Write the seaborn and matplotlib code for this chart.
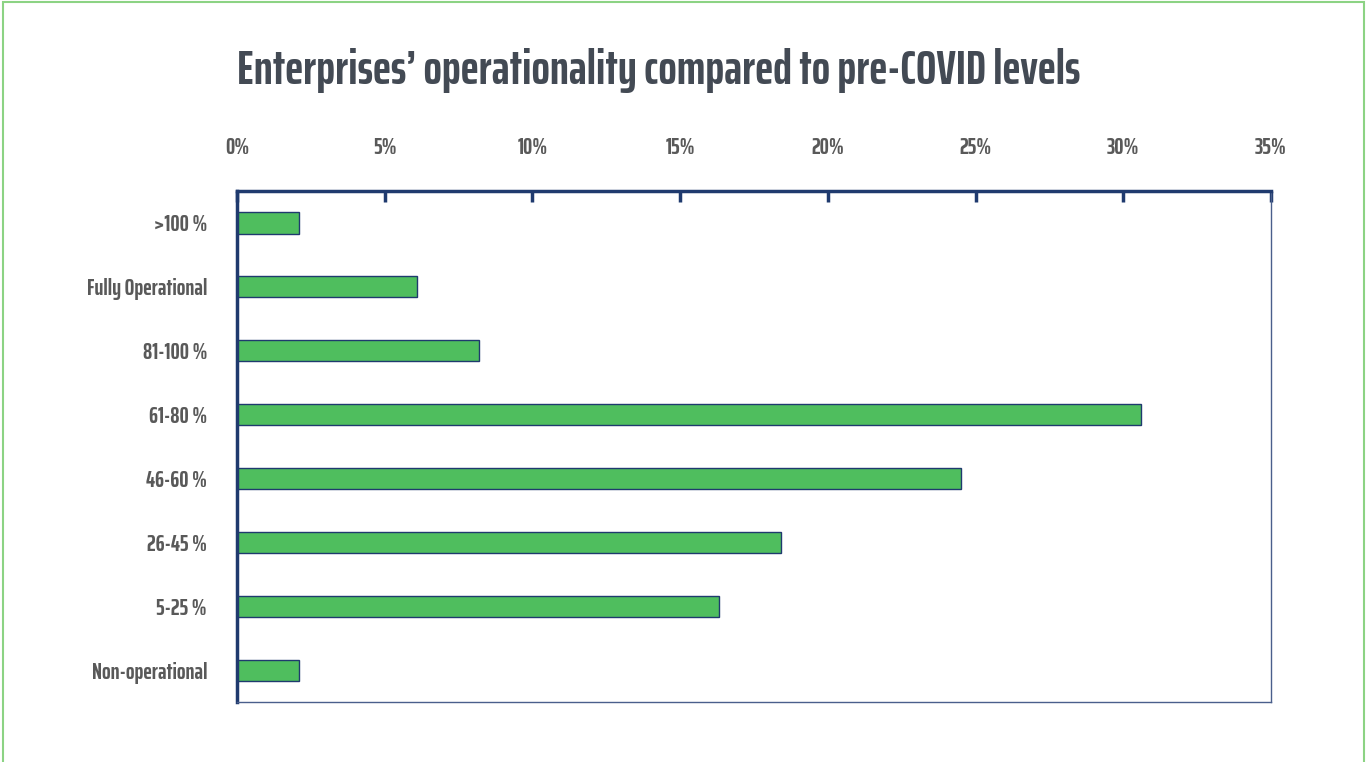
import matplotlib
matplotlib.use("Agg")
import matplotlib.pyplot as plt
from matplotlib import font_manager
from matplotlib.patches import Rectangle
import seaborn as sns
import pandas as pd

categories = [">100 %", "Fully Operational", "81-100 %", "61-80 %",
              "46-60 %", "26-45 %", "5-25 %", "Non-operational"]
shares = [2.1, 6.1, 8.2, 30.6, 24.5, 18.4, 16.3, 2.1]
x_ticks = [0, 5, 10, 15, 20, 25, 30, 35]
x_tick_labels = [f"{t}%" for t in x_ticks]
title_text = "Enterprises\u2019 operationality compared to pre-COVID levels"

sns.set_theme(style="white")

TITLE_WIDTH_PX = 842
TITLE_SIZE = 38
WEIGHT = "bold"


def installed(name):
    try:
        font_manager.findfont(name, fallback_to_default=False)
        return True
    except Exception:
        return False


candidates = [f for f in ["Saira ExtraCondensed", "Saira Condensed", "Barlow Condensed",
                          "Oswald"] if installed(f)] or ["DejaVu Sans"]

fig = plt.figure(figsize=(13.67, 7.62), dpi=100)
renderer = fig.canvas.get_renderer()


def text_width(family, size):
    t = fig.text(0, 0, title_text, fontsize=size, fontweight=WEIGHT, family=[family, "DejaVu Sans"])
    w = t.get_window_extent(renderer).width
    t.remove()
    return w


# Narrow face whose natural width is closest to the title box
widths = {f: text_width(f, TITLE_SIZE) for f in candidates}
family = min(widths, key=lambda f: abs(widths[f] - TITLE_WIDTH_PX))
title_size = TITLE_SIZE * TITLE_WIDTH_PX / widths[family]
label_size = 18 * title_size / TITLE_SIZE

plt.rcParams["font.family"] = [family, "DejaVu Sans"]

df = pd.DataFrame({"category": categories, "share": shares})

ax = fig.add_axes([0.1734, 0.0787, 0.7564, 0.6706])

sns.barplot(data=df, x="share", y="category", order=categories, orient="h",
            color="#4FBE5E", saturation=1, width=0.33,
            edgecolor="#1F3A6E", linewidth=1.0, ax=ax)

ax.set_xlim(0, 35)
ax.set_ylim(len(categories) - 0.5, -0.5)
ax.set_xticks(x_ticks)
ax.set_xticklabels(x_tick_labels)
ax.xaxis.tick_top()
ax.xaxis.set_label_position("top")
ax.set_xlabel("")
ax.set_ylabel("")

ax.tick_params(axis="x", which="both", direction="in", length=8, width=2.5,
               color="#1F3A6E", pad=23, labelsize=label_size, labelcolor="#595959")
ax.tick_params(axis="y", which="both", length=0, pad=21.6, labelsize=label_size,
               labelcolor="#595959")
for lbl in ax.get_xticklabels() + ax.get_yticklabels():
    lbl.set_fontweight(WEIGHT)

for side in ["top", "left"]:
    ax.spines[side].set_color("#1F3A6E")
    ax.spines[side].set_linewidth(2.5)
for side in ["right", "bottom"]:
    ax.spines[side].set_color("#4A5F8C")
    ax.spines[side].set_linewidth(1.0)

fig.text(0.482, 0.908, title_text, ha="center", va="center",
         fontsize=title_size, fontweight=WEIGHT, color="#434A54")

# Light green frame around the whole figure
fig.patches.append(Rectangle((0.002, -0.01), 0.996, 1.007, transform=fig.transFigure,
                             fill=False, edgecolor="#8CD384", linewidth=1.5))

fig.savefig("out.png", dpi=100)
